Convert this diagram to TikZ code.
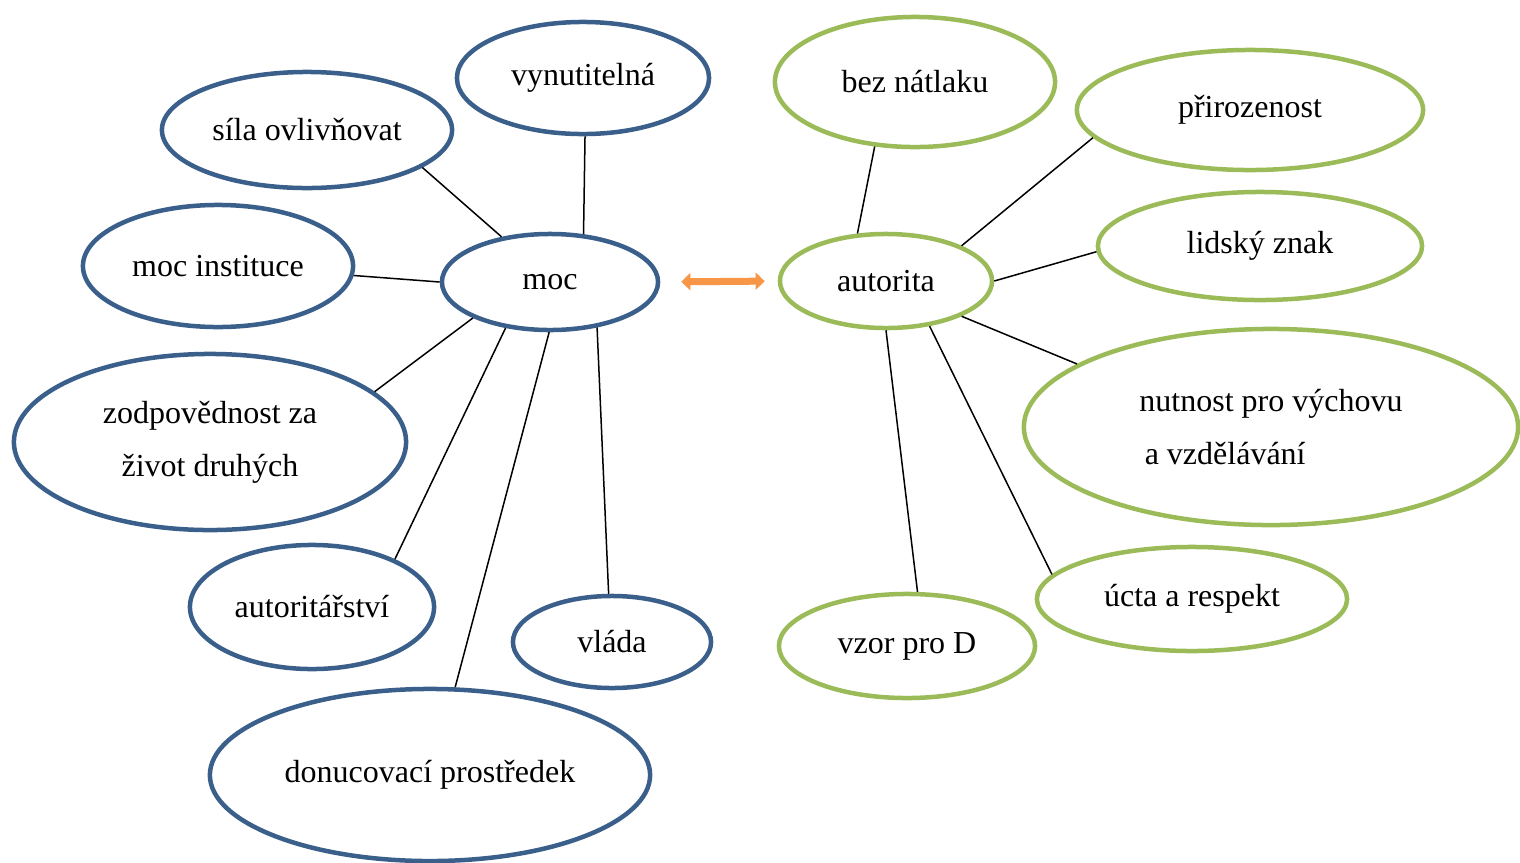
\documentclass[tikz,border=0pt]{standalone}
\usepackage{fontspec}
\setmainfont{Liberation Serif}
\usetikzlibrary{shapes.geometric,arrows.meta}

\definecolor{mocblue}{RGB}{58,95,139}
\definecolor{autgreen}{RGB}{155,187,89}
\definecolor{arroworange}{RGB}{247,150,70}

\tikzset{
  mocnode/.style={ellipse, draw=mocblue, line width=0.045cm, inner sep=0pt,
    font=\fontsize{9.1}{15}\selectfont},
  autnode/.style={ellipse, draw=autgreen, line width=0.045cm, inner sep=0pt,
    font=\fontsize{9.1}{15}\selectfont},
  link/.style={black, line width=0.015cm}
}

\begin{document}
\begin{tikzpicture}[x=0.01cm, y=-0.01cm]

\useasboundingbox (0,0) rectangle (1520,863);

% left side: moc and its bubbles
\node[mocnode, minimum width=2.16cm, minimum height=0.96cm] (moc) at (550,282) {moc};
\node[mocnode, minimum width=2.52cm, minimum height=1.12cm] (vyn) at (583,78) {vynutitelná};
\node[mocnode, minimum width=2.90cm, minimum height=1.16cm] (sila) at (307,130) {síla ovlivňovat};
\node[mocnode, minimum width=2.70cm, minimum height=1.22cm] (inst) at (218,266) {moc instituce};
\node[mocnode, minimum width=3.92cm, minimum height=1.76cm, align=center] (zodp) at (210,442)
  {zodpovědnost za\\život druhých};
\node[mocnode, minimum width=2.44cm, minimum height=1.24cm] (autorit) at (312,607) {autoritářství};
\node[mocnode, minimum width=1.98cm, minimum height=0.92cm] (vlada) at (612,642) {vláda};
\node[mocnode, minimum width=4.40cm, minimum height=1.72cm] (donuc) at (430,775) {donucovací prostředek};

\draw[link] (moc.55)  -- (vyn.272);
\draw[link] (moc.137) -- (sila.342);
\draw[link] (moc.180) -- (inst.356);
\draw[link] (moc.205) -- (zodp.17);
\draw[link] (moc.226) -- (autorit.30);
\draw[link] (moc.269) -- (donuc.74);
\draw[link] (moc.316) -- (vlada.94);

% right side: autorita and its bubbles
\node[autnode, minimum width=2.12cm, minimum height=0.94cm] (autorita) at (886,281) {autorita};
\node[autnode, minimum width=2.80cm, minimum height=1.30cm] (bez) at (915,82) {bez nátlaku};
\node[autnode, minimum width=3.46cm, minimum height=1.20cm] (priroz) at (1250,110) {přirozenost};
\node[autnode, minimum width=3.24cm, minimum height=1.08cm] (lidsky) at (1260,246) {lidský znak};
\node[autnode, minimum width=4.94cm, minimum height=1.96cm, align=left] (nutnost) at (1271,427)
  {nutnost pro výchovu\\ \,a vzdělávání};
\node[autnode, minimum width=3.10cm, minimum height=1.04cm] (ucta) at (1192,599) {úcta a respekt};
\node[autnode, minimum width=2.56cm, minimum height=1.04cm] (vzor) at (907,646) {vzor pro D};

\draw[link] (autorita.121) -- (bez.238);
\draw[link] (autorita.25)  -- (priroz.190);
\draw[link] (autorita.0)   -- (lidsky.182);
\draw[link] (autorita.335) -- (nutnost.162);
\draw[link] (autorita.314) -- (ucta.170);
\draw[link] (autorita.270) -- (vzor.79);

% double arrow between the two centres
\draw[arroworange, line width=0.07cm,
  {Triangle[width=0.17cm, length=0.09cm]}-{Triangle[width=0.17cm, length=0.09cm]},
  shorten <=0.21cm, shorten >=0.13cm] (moc.east) -- (autorita.west);

\end{tikzpicture}
\end{document}
